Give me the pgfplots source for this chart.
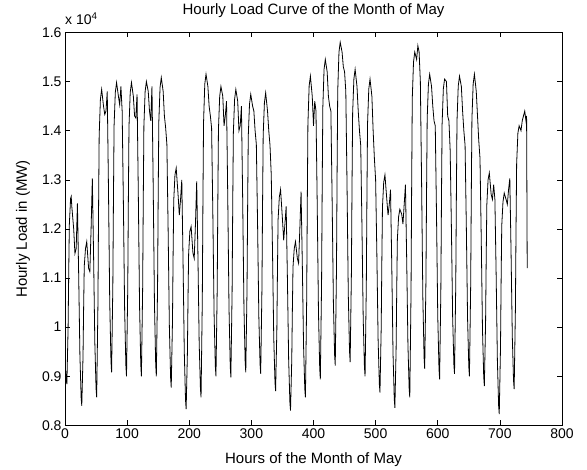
\documentclass[border=0pt]{standalone}
\usepackage{pgfplots}
\pgfplotsset{compat=1.18}
\usepackage{pgfplotstable}
\usepackage{fontspec}
\setmainfont{Liberation Sans}

% hourly load of May, MW
\pgfplotstableread{
hour load
1 9120
2 8930
3 8840
5 9990
6 11130
7 12090
9 12620
10 12660
11 12450
14 12000
16 11500
18 11600
20 12520
22 11080
24 9430
26 8560
27 8400
29 9400
30 10400
31 11240
33 11600
35 11740
38 11200
40 11130
42 12000
44 13030
46 11470
48 9690
50 8750
51 8570
53 10450
54 12330
55 13900
57 14640
59 14840
62 14500
64 14330
66 14400
68 14800
70 12800
72 10510
74 9310
75 9080
77 10850
78 12620
79 14100
81 14780
83 14980
86 14700
88 14530
90 14900
92 14400
94 12510
96 10350
98 9220
99 9000
101 10790
102 12590
103 14080
105 14780
107 14980
110 14700
112 14300
114 14260
116 14740
118 12730
120 10440
122 9230
123 9000
125 10800
126 12600
127 14100
129 14800
131 15000
134 14800
136 14400
138 14200
140 14900
142 12840
144 10480
146 9240
147 9000
149 10820
150 12650
151 14170
153 14880
155 15080
158 14800
160 14300
162 14060
164 13720
166 11990
168 10010
170 8970
171 8770
173 10110
174 11450
175 12570
177 13100
179 13240
182 12700
184 12280
186 12600
188 13000
190 11370
192 9500
194 8520
195 8330
197 9450
198 10560
199 11490
201 11950
203 12050
206 11500
208 11400
210 12100
212 12970
214 11430
216 9670
218 8750
219 8570
221 10540
222 12520
223 14160
225 14950
227 15150
230 14900
232 14500
234 14300
236 14050
238 12280
240 10260
242 9200
243 9000
245 10770
246 12540
247 14020
249 14700
251 14900
254 14700
256 14100
258 14300
260 14600
262 12630
264 10390
266 9200
267 8980
269 10740
270 12500
271 13960
273 14640
275 14840
278 14600
280 14000
282 14100
284 14500
286 12600
288 10440
290 9300
291 9080
293 10780
294 12480
295 13890
297 14540
299 14740
302 14500
304 14400
306 14000
308 13720
310 12090
312 10220
314 9240
315 9050
317 10770
318 12480
319 13910
321 14570
323 14770
326 14400
328 14000
330 13700
332 13100
334 11560
336 9800
338 8880
339 8700
341 9930
342 11160
343 12190
345 12650
347 12800
350 12200
352 11770
354 12100
356 12460
358 11000
360 9340
362 8470
363 8300
365 9330
366 10360
367 11220
369 11600
371 11740
374 11400
376 11300
378 12000
380 12760
382 11290
384 9620
386 8740
387 8570
389 10530
390 12490
391 14130
393 14910
395 15110
398 14700
400 14100
402 14600
404 14400
406 12490
408 10310
410 9160
411 8940
413 10890
414 12850
415 14470
417 15250
419 15450
422 15200
424 14700
426 14500
428 14400
430 12590
432 10520
434 9430
435 9220
437 11190
438 13170
439 14810
441 15600
443 15800
446 15600
448 15300
450 15200
452 14800
454 12870
456 10670
458 9510
459 9290
461 11080
462 12870
463 14360
465 15050
467 15250
470 14900
472 14400
474 14000
476 13700
478 12060
480 10180
482 9190
483 9000
485 10820
486 12630
487 14140
489 14850
491 15050
494 14700
496 14000
498 13440
500 13000
502 11480
504 9750
506 8840
507 8670
509 10000
510 11330
511 12440
513 12950
515 13100
518 12600
520 12280
522 12500
524 12800
526 11250
528 9470
530 8540
531 8360
533 9570
534 10780
535 11790
537 12250
539 12400
542 12300
544 12100
546 12500
548 12900
550 11380
552 9650
554 8740
555 8570
557 10720
558 12870
559 14660
561 15400
563 15600
566 15450
568 15730
570 15600
572 15000
574 12950
576 10610
578 9380
579 9150
581 10950
582 12750
583 14250
585 14950
587 15150
590 14900
592 14500
594 14200
596 14100
598 12290
600 10230
602 9150
603 8940
605 10770
606 12610
607 14130
609 14850
611 15050
614 15000
616 14300
618 14200
620 13600
622 12010
624 10190
626 9230
627 9050
629 10870
630 12690
631 14200
633 14910
635 15110
638 14900
640 14400
642 14000
644 13700
646 12060
648 10180
650 9190
651 9000
653 10850
654 12690
655 14230
657 14950
659 15150
662 14800
664 14300
666 13800
668 13440
670 11820
672 9960
674 8990
675 8800
677 10100
678 11400
679 12490
681 13000
683 13140
686 12700
688 12600
690 12900
692 12600
694 11070
696 9320
698 8400
699 8230
701 9580
702 10930
703 12060
705 12550
707 12730
710 12600
712 12500
714 12800
716 13030
718 11530
720 9810
722 8910
723 8740
725 10360
726 11980
727 13330
729 13950
731 14100
734 14000
736 14200
738 14300
740 14400
742 14200
743 14300
744 11200
}\mayload

\begin{document}
\begin{tikzpicture}
\begin{axis}[
    scale only axis, width=497pt, height=393pt,
    xmin=0, xmax=800, ymin=8000, ymax=16000,
    xtick={0,100,...,800}, ytick={8000,9000,...,16000},
    scaled y ticks=base 10:-4,
    ytick scale label code/.code={},
    yticklabel style={/pgf/number format/fixed, /pgf/number format/precision=1},
    /pgf/number format/assume math mode=true,
    tick label style={font=\fontsize{14}{16}\selectfont},
    tick align=inside, major tick length=5pt,
    axis line style={line width=0.6pt},
    every tick/.style={line width=0.6pt, black},
    title={Hourly Load Curve of the Month of May},
    title style={font=\fontsize{15}{17}\selectfont, at={(axis description cs:0.5,1.041)}, anchor=center},
    xlabel={Hours of the Month of May},
    xlabel style={font=\fontsize{15}{17}\selectfont, at={(axis description cs:0.5,-0.087)}, anchor=center},
    ylabel={Hourly Load in (MW)},
    ylabel style={font=\fontsize{15}{17}\selectfont, at={(axis description cs:-0.0845,0.5)}, anchor=center},
]
\addplot[black, line width=0.8pt] table[x=hour, y=load] {\mayload};
\end{axis}
\node[anchor=base west, inner sep=0pt, font=\fontsize{14}{16}\selectfont]
    at ([yshift=8pt]current axis.north west) {x 10\textsuperscript{4}};
\path (current axis.south west) ++(-65pt,-42pt) rectangle ++(587pt,465pt);
\end{tikzpicture}
\end{document}
